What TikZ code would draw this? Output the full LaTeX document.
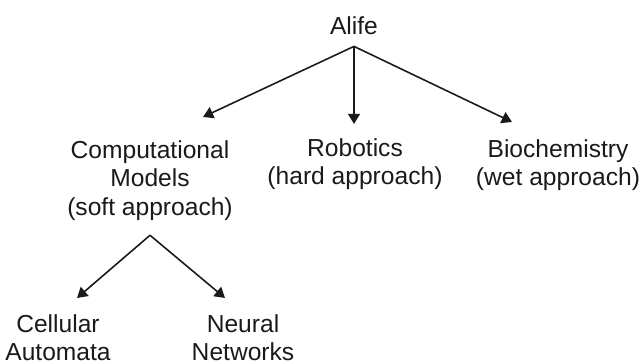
\documentclass[tikz,border=0pt]{standalone}
\usepackage{fontspec}
\setmainfont{Liberation Sans}
\usepackage{tikz}
\usetikzlibrary{arrows.meta, positioning, calc}
\definecolor{ink}{HTML}{1A1A1A}

\begin{document}
\begin{tikzpicture}[
  x=0.02cm, y=-0.02cm,
  topic/.style={font=\fontsize{14}{16.4}\selectfont, text=ink,
                align=center, inner sep=0pt, anchor=north},
  root/.style={font=\fontsize{14}{16.4}\selectfont, text=ink,
               inner xsep=0pt, inner ysep=0.22cm},
  arr/.style={-{Triangle[length=5.8pt,width=6.8pt]}, line width=0.9pt, color=ink},
]
\useasboundingbox (0,0) rectangle (642,364);
\node[root]  (alife) at (354,26)  {Alife};
\node[topic] (comp)  at (150,140) {Computational\\Models\\(soft approach)};
\node[topic] (robot) at (355,138) {Robotics\\(hard approach)};
\node[topic] (bio)   at (558,139) {Biochemistry\\(wet approach)};
\node[topic] (cell)  at (58,314)  {Cellular\\Automata};
\node[topic] (neur)  at (243,314) {Neural\\Networks};
\draw[arr] (alife.south) -- ($(comp.north)+(53,-23)$);
\draw[arr] (alife.south) -- ($(robot.north)+(-1,-14)$);
\draw[arr] (alife.south) -- ($(bio.north)+(-46,-17)$);
\coordinate (fork) at ($(comp.south)+(0,14)$);
\draw[arr] (fork) -- ($(cell.north)+(19,-16)$);
\draw[arr] (fork) -- ($(neur.north)+(-18,-16)$);
\end{tikzpicture}
\end{document}
